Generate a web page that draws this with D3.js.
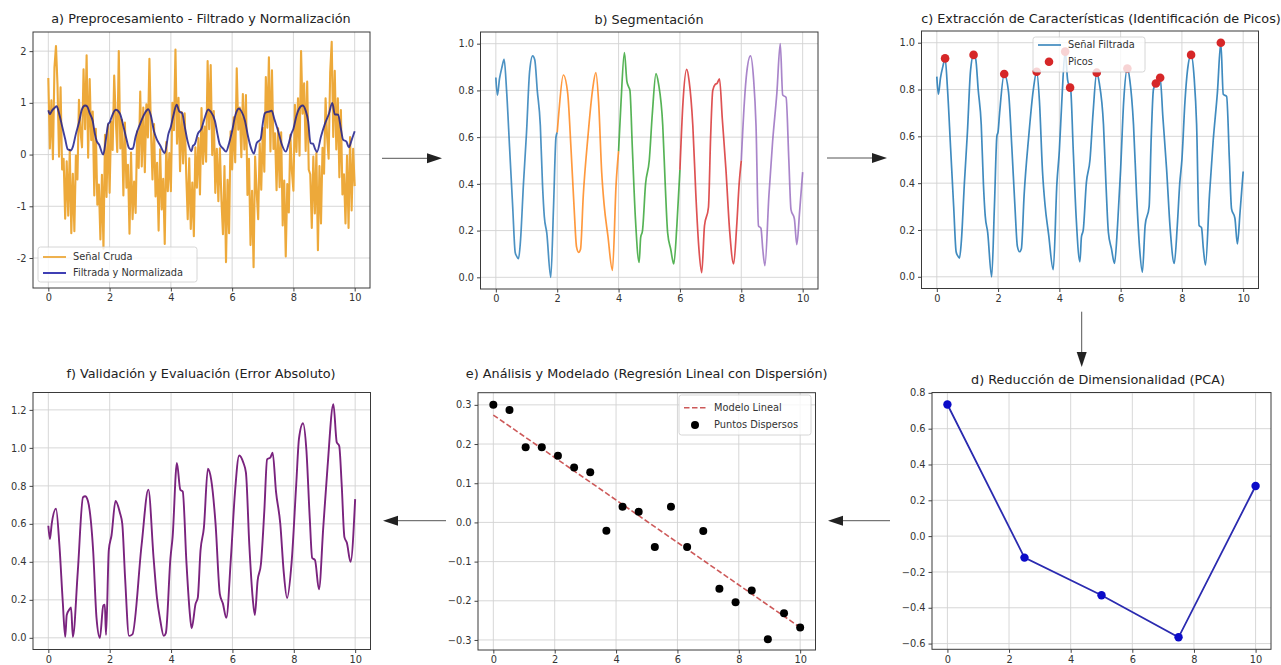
<!DOCTYPE html>
<html>
<head>
<meta charset="utf-8">
<script src="https://cdn.jsdelivr.net/npm/d3@7"></script>
<style>
  body { margin: 0; background: #fff; }
  svg { display: block; font-family: "DejaVu Sans", sans-serif; }
</style>
</head>
<body>
<svg id="chart" width="1281" height="665"></svg>
<script>
// ---- datos ----
const xTicks = [0, 2, 4, 6, 8, 10];

// señal cruda (muestreo cada 0.05 s)
const rawStep = 0.05;
const rawY = [
  1.48, .12, 1.05, -.09, 1.68, 2.10, 1.34, -.04, 1.30, -.29, -.08, -1.24, -.13, -1.18, .09, -1.52, -.37, -1.48, -.02, -.48, 1.06, .45, .14,
  1.65, .49, 1.92, -.06, 1.46, .28, .83, -.79, .50, -.97, -.58, -1.64, -.39, -1.82, .38, -.82, .58, -.74, .64, .09, 1.53, .71, .05,
  2.00, .12, .67, -.79, .62, -.64, -.20, -1.53, .04, -1.25, -.52, -1.13, .45, -.26, 1.22, -.23, .91, -.34, .97, .33, 1.85, .45, -.48,
  .59, -.81, -.16, -1.47, .10, -1.06, -.47, -1.73, .24, -.71, .03, -.71, 1.00, .47, 2.03, .21, 1.10, -.32, .82, -.17, .80, -.36, -1.25,
  -.07, -1.44, -.54, -1.58, .14, -.64, .32, -.77, .90, -.18, .54, -.14, 1.81, .49, 1.73, -.01, .84, -.74, .11, -.90, .12, -.87, -1.54,
  -.22, -2.08, -.49, -1.52, .45, -.29, .72, -.15, 1.67, .48, .91, -.05, 1.17, .10, 1.15, -.78, -.08, -1.75, -.70, -2.18, -.04, -.72, -1.25,
  .22, -.68, .52, -.33, 1.50, .52, 1.88, .06, 1.63, .11, .41, -.69, .51, -.63, .43, -1.37, -.50, -1.97, -.57, -1.12, .38, -.32, -.70,
  .96, .05, 1.09, -.02, 2.00, .79, 1.38, .07, 1.41, -.29, -.38, -1.42, -.04, -1.14, .03, -1.85, -.22, -1.33, .13, -.37, 1.09, .34, -.08,
  1.58, 2.18, .34, 1.62, .10, 1.09, -.44, .86, -.77, -.38, -1.33, -.02, -1.42, .34, -1.08, .11, -.61
];

// señal filtrada y normalizada
const filtT = [0, .05, .12, .20, .27, .35, .45, .55, .63, .68, .74, .80, .90, 1.00, 1.10, 1.20, 1.27, 1.35, 1.45, 1.52,
  1.58, 1.66, 1.79, 1.88, 1.96, 2.00, 2.05, 2.20, 2.34, 2.45, 2.55, 2.63, 2.70, 2.76, 2.85, 3.00, 3.15, 3.26, 3.35, 3.45,
  3.53, 3.65, 3.80, 3.92, 4.00, 4.08, 4.19, 4.27, 4.33, 4.37, 4.45, 4.55, 4.67, 4.72, 4.78, 4.88, 5.00, 5.10, 5.22, 5.30,
  5.44, 5.52, 5.60, 5.70, 5.80, 5.90, 6.00, 6.10, 6.22, 6.30, 6.42, 6.52, 6.62, 6.71, 6.80, 6.93, 7.00, 7.07, 7.15, 7.21,
  7.29, 7.38, 7.50, 7.62, 7.75, 7.85, 7.93, 8.00, 8.10, 8.18, 8.30, 8.40, 8.48, 8.56, 8.64, 8.70, 8.77, 8.90, 9.02, 9.16,
  9.27, 9.35, 9.46, 9.55, 9.62, 9.73, 9.81, 9.90, 10.00];
const filtY = [.855, .78, .85, .90, .933, .80, .55, .30, .107, .09, .08, .15, .40, .62, .88, .948, .93, .80, .65, .40,
  .26, .19, .00, .30, .60, .62, .70, .866, .79, .55, .30, .13, .107, .12, .35, .60, .80, .876, .75, .45,
  .31, .18, .03, .40, .54, .75, .962, .84, .815, .80, .55, .25, .064, .17, .20, .40, .50, .70, .872, .83,
  .65, .40, .19, .12, .057, .22, .46, .75, .89, .84, .65, .35, .12, .02, .22, .30, .60, .80, .826, .83,
  .85, .68, .46, .20, .057, .22, .40, .50, .75, .88, .948, .85, .65, .22, .21, .12, .05, .35, .58, .79,
  1.00, .78, .77, .50, .29, .25, .14, .28, .45];

// segmentos
const segEdges = [0, 2, 4, 6, 8, 10];
const segColors = ["#1f77b4", "#ff7f0e", "#2ca02c", "#d62728", "#9467bd"];

// picos detectados
const peakX = [0.27, 1.20, 2.20, 3.26, 4.19, 4.35, 5.22, 6.22, 7.15, 7.29, 8.30, 9.27];
const peakY = [0.933, 0.948, 0.866, 0.876, 0.962, 0.808, 0.872, 0.89, 0.826, 0.85, 0.948, 1.0];

// PCA
const pcaX = [0, 2.5, 5, 7.5, 10];
const pcaY = [0.735, -0.12, -0.33, -0.565, 0.28];

// regresion
const scatX = [0, 0.526, 1.053, 1.579, 2.105, 2.632, 3.158, 3.684, 4.211, 4.737, 5.263, 5.789, 6.316, 6.842, 7.368, 7.895, 8.421, 8.947, 9.474, 10];
const scatY = [0.30, 0.287, 0.192, 0.192, 0.17, 0.14, 0.128, -0.021, 0.04, 0.027, -0.063, 0.04, -0.063, -0.022, -0.169, -0.204, -0.174, -0.298, -0.232, -0.268];
const fitX = [0, 10];
const fitY = [0.274, -0.268];

// error absoluto
const errT = [0, .05, .11, .25, .36, .47, .55, .60, .69, .74, .80, .96, 1.13, 1.20, 1.29, 1.46, 1.57, 1.68, 1.79, 1.84,
  1.88, 1.97, 2.06, 2.19, 2.33, 2.41, 2.50, 2.63, 2.74, 3.04, 3.26, 3.43, 3.54, 3.65, 3.76, 3.83, 3.98, 4.05, 4.19, 4.30,
  4.38, 4.50, 4.60, 4.67, 4.80, 4.87, 4.96, 5.07, 5.20, 5.31, 5.45, 5.59, 5.69, 5.80, 5.95, 6.08, 6.22, 6.36, 6.44, 6.55,
  6.66, 6.73, 6.82, 6.93, 7.04, 7.13, 7.24, 7.31, 7.42, 7.56, 7.67, 7.78, 7.93, 8.08, 8.17, 8.30, 8.41, 8.52, 8.60, 8.69,
  8.82, 8.96, 9.10, 9.29, 9.40, 9.48, 9.56, 9.65, 9.73, 9.85, 10.00];
const errY = [.59, .52, .60, .68, .49, .19, .005, .12, .15, .16, .005, .35, .74, .745, .72, .46, .105, .00, .17, .175,
  .015, .46, .54, .72, .66, .60, .32, .01, .018, .49, .78, .42, .21, .09, .01, .025, .42, .53, .92, .78,
  .77, .40, .15, .05, .18, .21, .46, .58, .89, .83, .60, .23, .18, .105, .42, .76, .96, .92, .87, .49,
  .21, .12, .30, .39, .67, .94, .95, .975, .77, .60, .35, .21, .40, .81, 1.05, 1.13, .99, .63, .42, .41,
  .255, .58, .90, 1.23, 1.03, 1.01, .81, .53, .50, .40, .73];

// ---- dibujo ----
const svg = d3.select("#chart");
const fmt1 = d3.format(".1f");
const fmtInt = d => String(d).replace("−", "-");

function panel(cfg) {
  const x = d3.scaleLinear().domain([-0.5, 10.5]).range([cfg.left, cfg.right]);
  const y = d3.scaleLinear().domain(cfg.yDomain).range([cfg.bottom, cfg.top]);
  const g = svg.append("g");
  const grid = g.append("g");
  grid.selectAll(".gx").data(xTicks).join("line")
    .attr("x1", d => x(d)).attr("x2", d => x(d))
    .attr("y1", cfg.top).attr("y2", cfg.bottom)
    .attr("stroke", "#d2d2d2").attr("stroke-width", 0.9);
  grid.selectAll(".gy").data(cfg.yTicks).join("line")
    .attr("x1", cfg.left).attr("x2", cfg.right)
    .attr("y1", d => y(d)).attr("y2", d => y(d))
    .attr("stroke", "#d2d2d2").attr("stroke-width", 0.9);

  svg.append("clipPath").attr("id", "clip-" + cfg.id)
    .append("rect").attr("x", cfg.left).attr("y", cfg.top)
    .attr("width", cfg.right - cfg.left).attr("height", cfg.bottom - cfg.top);
  const plot = g.append("g").attr("clip-path", `url(#clip-${cfg.id})`);

  const xa = g.append("g").attr("transform", `translate(0,${cfg.bottom})`)
    .call(d3.axisBottom(x).tickValues(xTicks).tickSize(3.5).tickPadding(3).tickSizeOuter(0));
  const ya = g.append("g").attr("transform", `translate(${cfg.left},0)`)
    .call(d3.axisLeft(y).tickValues(cfg.yTicks).tickFormat(cfg.fmt).tickSize(3.5).tickPadding(3).tickSizeOuter(0));
  [xa, ya].forEach(a => {
    a.select(".domain").remove();
    a.selectAll("line").attr("stroke", "#444");
    a.selectAll("text").attr("fill", "#333").style("font-size", "9.8px").style("font-family", "DejaVu Sans");
  });

  g.append("rect").attr("x", cfg.left).attr("y", cfg.top)
    .attr("width", cfg.right - cfg.left).attr("height", cfg.bottom - cfg.top)
    .attr("fill", "none").attr("stroke", "#3a3a3a").attr("stroke-width", 1);

  g.append("text").attr("x", cfg.titleX).attr("y", cfg.titleY)
    .attr("text-anchor", "middle").attr("dominant-baseline", "middle")
    .attr("fill", "#222").style("font-size", "12.8px").text(cfg.title);

  const top = g.append("g");
  return { plot, top, x, y };
}

function legendBox(layer, box, items) {
  layer.append("rect").attr("x", box.x).attr("y", box.y).attr("width", box.w).attr("height", box.h)
    .attr("rx", 2.5).attr("fill", "#fff").attr("fill-opacity", 0.8)
    .attr("stroke", "#cccccc").attr("stroke-width", 0.8);
  items.forEach(it => {
    if (it.kind === "dot") {
      layer.append("circle").attr("cx", box.x + box.sx + 11).attr("cy", it.y).attr("r", it.r)
        .attr("fill", it.color);
    } else {
      layer.append("line").attr("x1", box.x + box.sx).attr("x2", box.x + box.sx + 23)
        .attr("y1", it.y).attr("y2", it.y).attr("stroke", it.color).attr("stroke-width", it.w)
        .attr("stroke-dasharray", it.dash || null).attr("opacity", it.op || 1);
    }
    layer.append("text").attr("x", box.x + box.tx).attr("y", it.y)
      .attr("dominant-baseline", "middle").attr("fill", "#333")
      .style("font-size", "9.8px").text(it.label);
  });
}

const filtPts = filtT.map((t, i) => [t, filtY[i]]);

// a) preprocesamiento
{
  const p = panel({ id: "a", left: 33, right: 370, top: 32, bottom: 288, yDomain: [-2.58, 2.37],
    yTicks: [-2, -1, 0, 1, 2], fmt: fmtInt, title: "a) Preprocesamiento - Filtrado y Normalización",
    titleX: 201, titleY: 19 });
  const raw = d3.line().x((d, i) => p.x(i * rawStep)).y(d => p.y(d));
  p.plot.append("path").attr("d", raw(rawY)).attr("fill", "none")
    .attr("stroke", "#eda93a").attr("stroke-width", 2.1).attr("stroke-linejoin", "round");
  const fl = d3.line().x(d => p.x(d[0])).y(d => p.y(d[1])).curve(d3.curveMonotoneX);
  p.plot.append("path").attr("d", fl(filtPts)).attr("fill", "none")
    .attr("stroke", "#1e1e8c").attr("stroke-opacity", 0.85).attr("stroke-width", 1.9);
  legendBox(p.top, { x: 38, y: 247, w: 159, h: 35, sx: 5, tx: 35 }, [
    { label: "Señal Cruda", color: "#eda93a", w: 1.8, y: 257 },
    { label: "Filtrada y Normalizada", color: "#3535b0", w: 1.9, y: 273 }
  ]);
}

// b) segmentacion
{
  const p = panel({ id: "b", left: 480.5, right: 818, top: 32, bottom: 289, yDomain: [-0.05, 1.05],
    yTicks: [0, 0.2, 0.4, 0.6, 0.8, 1.0], fmt: fmt1, title: "b) Segmentación",
    titleX: 649, titleY: 20 });
  const fl = d3.line().x(d => p.x(d[0])).y(d => p.y(d[1])).curve(d3.curveMonotoneX);
  segColors.forEach((c, i) => {
    const pts = filtPts.filter(d => d[0] >= segEdges[i] && d[0] <= segEdges[i + 1]);
    p.plot.append("path").attr("d", fl(pts)).attr("fill", "none")
      .attr("stroke", c).attr("stroke-opacity", 0.8).attr("stroke-width", 1.7);
  });
}

// c) extraccion de caracteristicas
{
  const p = panel({ id: "c", left: 921.5, right: 1258.5, top: 31, bottom: 288.5, yDomain: [-0.05, 1.05],
    yTicks: [0, 0.2, 0.4, 0.6, 0.8, 1.0], fmt: fmt1,
    title: "c) Extracción de Características (Identificación de Picos)", titleX: 1101, titleY: 19 });
  const fl = d3.line().x(d => p.x(d[0])).y(d => p.y(d[1])).curve(d3.curveMonotoneX);
  p.plot.append("path").attr("d", fl(filtPts)).attr("fill", "none")
    .attr("stroke", "#1f77b4").attr("stroke-opacity", 0.85).attr("stroke-width", 1.7);
  p.plot.selectAll("circle").data(peakX).join("circle")
    .attr("cx", d => p.x(d)).attr("cy", (d, i) => p.y(peakY[i])).attr("r", 4.3)
    .attr("fill", "#d62728");
  legendBox(p.top, { x: 1033, y: 37, w: 112, h: 35, sx: 5, tx: 35 }, [
    { label: "Señal Filtrada", color: "#1f77b4", w: 1.7, y: 45, op: 0.85 },
    { kind: "dot", label: "Picos", color: "#d62728", r: 4.3, y: 61.7 }
  ]);
}

// d) PCA
{
  const p = panel({ id: "d", left: 932, right: 1271, top: 392.5, bottom: 649.3, yDomain: [-0.632, 0.802],
    yTicks: [-0.6, -0.4, -0.2, 0, 0.2, 0.4, 0.6, 0.8], fmt: fmt1,
    title: "d) Reducción de Dimensionalidad (PCA)", titleX: 1098, titleY: 380 });
  const ln = d3.line().x((d, i) => p.x(pcaX[i])).y(d => p.y(d));
  p.plot.append("path").attr("d", ln(pcaY)).attr("fill", "none")
    .attr("stroke", "#2b2bb0").attr("stroke-width", 1.8);
  p.plot.selectAll("circle").data(pcaY).join("circle")
    .attr("cx", (d, i) => p.x(pcaX[i])).attr("cy", d => p.y(d)).attr("r", 4.2)
    .attr("fill", "#0b0bc8");
}

// e) regresion lineal
{
  const p = panel({ id: "e", left: 478, right: 815.5, top: 392.7, bottom: 650, yDomain: [-0.3256, 0.331],
    yTicks: [-0.3, -0.2, -0.1, 0, 0.1, 0.2, 0.3], fmt: fmt1,
    title: "e) Análisis y Modelado (Regresión Lineal con Dispersión)", titleX: 646.7, titleY: 374 });
  const ln = d3.line().x((d, i) => p.x(fitX[i])).y(d => p.y(d));
  p.plot.append("path").attr("d", ln(fitY)).attr("fill", "none")
    .attr("stroke", "#c43c3c").attr("stroke-opacity", 0.85).attr("stroke-width", 1.6)
    .attr("stroke-dasharray", "5.5,2.5");
  p.plot.selectAll("circle").data(scatY).join("circle")
    .attr("cx", (d, i) => p.x(scatX[i])).attr("cy", d => p.y(d)).attr("r", 4)
    .attr("fill", "#000");
  legendBox(p.top, { x: 679, y: 395, w: 132, h: 40, sx: 5, tx: 35 }, [
    { label: "Modelo Lineal", color: "#c43c3c", w: 1.6, y: 407.7, dash: "5.5,2.5", op: 0.85 },
    { kind: "dot", label: "Puntos Dispersos", color: "#000", r: 4, y: 425 }
  ]);
}

// f) validacion
{
  const p = panel({ id: "f", left: 33, right: 370.5, top: 392.5, bottom: 649.5, yDomain: [-0.0615, 1.2915],
    yTicks: [0, 0.2, 0.4, 0.6, 0.8, 1.0, 1.2], fmt: fmt1,
    title: "f) Validación y Evaluación (Error Absoluto)", titleX: 201, titleY: 374 });
  const fl = d3.line().x((d, i) => p.x(errT[i])).y(d => p.y(d)).curve(d3.curveMonotoneX);
  p.plot.append("path").attr("d", fl(errY)).attr("fill", "none")
    .attr("stroke", "#7a237e").attr("stroke-width", 1.9);
}

// flechas entre paneles
function arrow(x1, y1, x2, y2) {
  const a = Math.atan2(y2 - y1, x2 - x1), L = 15, H = 5;
  const bx = x2 - L * Math.cos(a), by = y2 - L * Math.sin(a);
  svg.append("line").attr("x1", x1).attr("y1", y1).attr("x2", bx).attr("y2", by)
    .attr("stroke", "#555").attr("stroke-width", 1);
  const px = -Math.sin(a) * H, py = Math.cos(a) * H;
  svg.append("path")
    .attr("d", `M${x2},${y2}L${bx + px},${by + py}L${bx - px},${by - py}Z`)
    .attr("fill", "#222");
}
arrow(382, 158.3, 442, 158.3);
arrow(827, 158, 887, 158);
arrow(1081.7, 311.7, 1081.7, 367);
arrow(890, 520.7, 828, 520.7);
arrow(446, 520.7, 383, 520.7);
</script>
</body>
</html>
